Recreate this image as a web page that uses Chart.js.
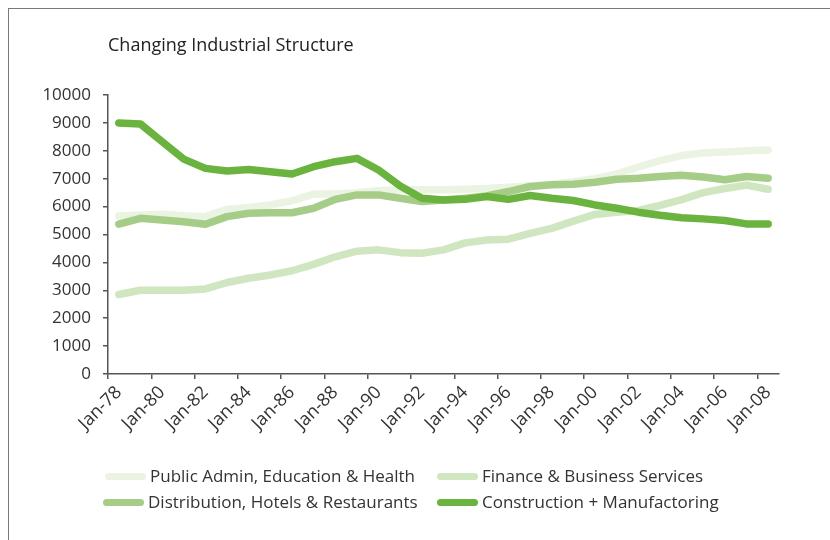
<!DOCTYPE html>
<html>
<head>
<meta charset="utf-8">
<title>Changing Industrial Structure</title>
<script src="https://cdn.jsdelivr.net/npm/chart.js@4.4.1/dist/chart.umd.min.js"></script>
<style>
  html, body { margin: 0; padding: 0; background: #fff; }
  #wrap { position: relative; width: 830px; height: 540px; font-family: "Open Sans", sans-serif; }
  #frame { position: absolute; left: 8px; top: 8px; right: 0; bottom: 0; border-top: 1px solid #7a7a7a; border-left: 1px solid #7a7a7a; }
  #title { position: absolute; left: 108px; top: 32px; font-size: 18px; color: #222; }
  #legend { position: absolute; left: 0; top: 463px; width: 830px; }
  .item { position: absolute; height: 26px; line-height: 26px; font-size: 17px; color: #333; white-space: nowrap; }
  .swatch { display: inline-block; width: 41px; height: 7px; border-radius: 4px; vertical-align: middle; margin-right: 4px; position: relative; top: -1px; }
</style>
</head>
<body>
<div id="wrap">
  <div id="frame"></div>
  <canvas id="chart" width="830" height="540"></canvas>
  <div id="title">Changing Industrial Structure</div>
  <div id="legend"></div>
</div>
<script>
// employment by sector, January of each year
const months = ['Jan-78', 'Jan-79', 'Jan-80', 'Jan-81', 'Jan-82', 'Jan-83', 'Jan-84', 'Jan-85',
  'Jan-86', 'Jan-87', 'Jan-88', 'Jan-89', 'Jan-90', 'Jan-91', 'Jan-92', 'Jan-93', 'Jan-94',
  'Jan-95', 'Jan-96', 'Jan-97', 'Jan-98', 'Jan-99', 'Jan-00', 'Jan-01', 'Jan-02', 'Jan-03',
  'Jan-04', 'Jan-05', 'Jan-06', 'Jan-07', 'Jan-08'];

const publicAdmin = [5660, 5700, 5730, 5670, 5640, 5900, 5970, 6060, 6210, 6450, 6450, 6500,
  6570, 6600, 6600, 6600, 6620, 6650, 6690, 6740, 6790, 6890, 7000, 7170, 7420, 7650, 7830,
  7920, 7960, 8000, 8030];

const finance = [2850, 3000, 3000, 3000, 3050, 3280, 3430, 3550, 3700, 3930, 4200, 4400,
  4450, 4350, 4330, 4450, 4700, 4800, 4830, 5040, 5220, 5480, 5720, 5800, 5860, 6040, 6250,
  6500, 6650, 6770, 6620];

const distribution = [5370, 5580, 5520, 5460, 5370, 5640, 5760, 5780, 5780, 5940, 6260, 6420,
  6420, 6300, 6180, 6240, 6300, 6380, 6540, 6720, 6780, 6800, 6870, 6980, 7020, 7080, 7120,
  7060, 6960, 7080, 7020];

const construction = [9000, 8960, 8330, 7700, 7370, 7275, 7330, 7250, 7170, 7430, 7610, 7730,
  7310, 6740, 6300, 6240, 6260, 6360, 6260, 6400, 6300, 6220, 6060, 5940, 5800, 5690, 5600,
  5560, 5500, 5380, 5380];

const seriesNames = ['Public Admin, Education & Health', 'Finance & Business Services',
  'Distribution, Hotels & Restaurants', 'Construction + Manufactoring'];
const seriesColors = ['#ebf4e3', '#d0e6c0', '#a5cd87', '#6ab33e'];
const seriesData = [publicAdmin, finance, distribution, construction];

const yTicks = { min: 0, max: 10000, step: 1000 };

const axisColor = '#555';

function makeDataset(i) {
  return {
    label: seriesNames[i],
    data: seriesData[i],
    borderColor: seriesColors[i],
    backgroundColor: seriesColors[i],
    borderWidth: 7.5,
    borderCapStyle: 'round',
    borderJoinStyle: 'round',
    pointRadius: 0,
    tension: 0,
    fill: false,
    order: seriesData.length - i   // darker lines sit on top
  };
}

const chart = new Chart(document.getElementById('chart'), {
  type: 'line',
  data: {
    labels: months,
    datasets: seriesData.map((d, i) => makeDataset(i))
  },
  options: {
    responsive: false,
    animation: false,
    layout: { padding: { top: 95, right: 51, bottom: 0, left: 0 } },
    plugins: {
      legend: { display: false },
      title: { display: false },
      tooltip: { enabled: false }
    },
    scales: {
      x: {
        type: 'category',
        offset: true,
        afterFit: (scale) => { scale.height = 166; },
        border: { display: true, color: axisColor, width: 1.5 },
        grid: {
          offset: true,
          drawOnChartArea: false,
          drawTicks: true,
          tickLength: 5,
          color: (ctx) => ctx.index % 2 === 0 ? axisColor : 'rgba(0,0,0,0)',
          lineWidth: 1.5
        },
        ticks: {
          autoSkip: false,
          maxRotation: 45,
          minRotation: 45,
          padding: 3,
          color: '#333',
          font: { family: '"Open Sans", sans-serif', size: 18 },
          callback: function (val, idx) {
            return idx % 2 === 0 ? this.getLabelForValue(val) : '';
          }
        }
      },
      y: {
        min: yTicks.min,
        max: yTicks.max,
        afterFit: (scale) => { scale.width = 108; },
        border: { display: true, color: axisColor, width: 1.5 },
        grid: {
          drawOnChartArea: false,
          drawTicks: true,
          tickLength: 5,
          color: axisColor,
          lineWidth: 1.5
        },
        ticks: {
          stepSize: yTicks.step,
          padding: 12,
          color: '#333',
          font: { family: '"Open Sans", sans-serif', size: 17 },
          callback: (val) => String(val)
        }
      }
    }
  }
});

// two-column legend under the axis
const legendPos = [[105, 0], [437, 0], [103, 26], [437, 26]];
const legendBox = document.getElementById('legend');
chart.data.datasets.forEach((ds, i) => {
  const item = document.createElement('div');
  item.className = 'item';
  item.style.left = legendPos[i][0] + 'px';
  item.style.top = legendPos[i][1] + 'px';
  const sw = document.createElement('span');
  sw.className = 'swatch';
  sw.style.background = ds.borderColor;
  item.appendChild(sw);
  item.appendChild(document.createTextNode(ds.label));
  legendBox.appendChild(item);
});
</script>
</body>
</html>
